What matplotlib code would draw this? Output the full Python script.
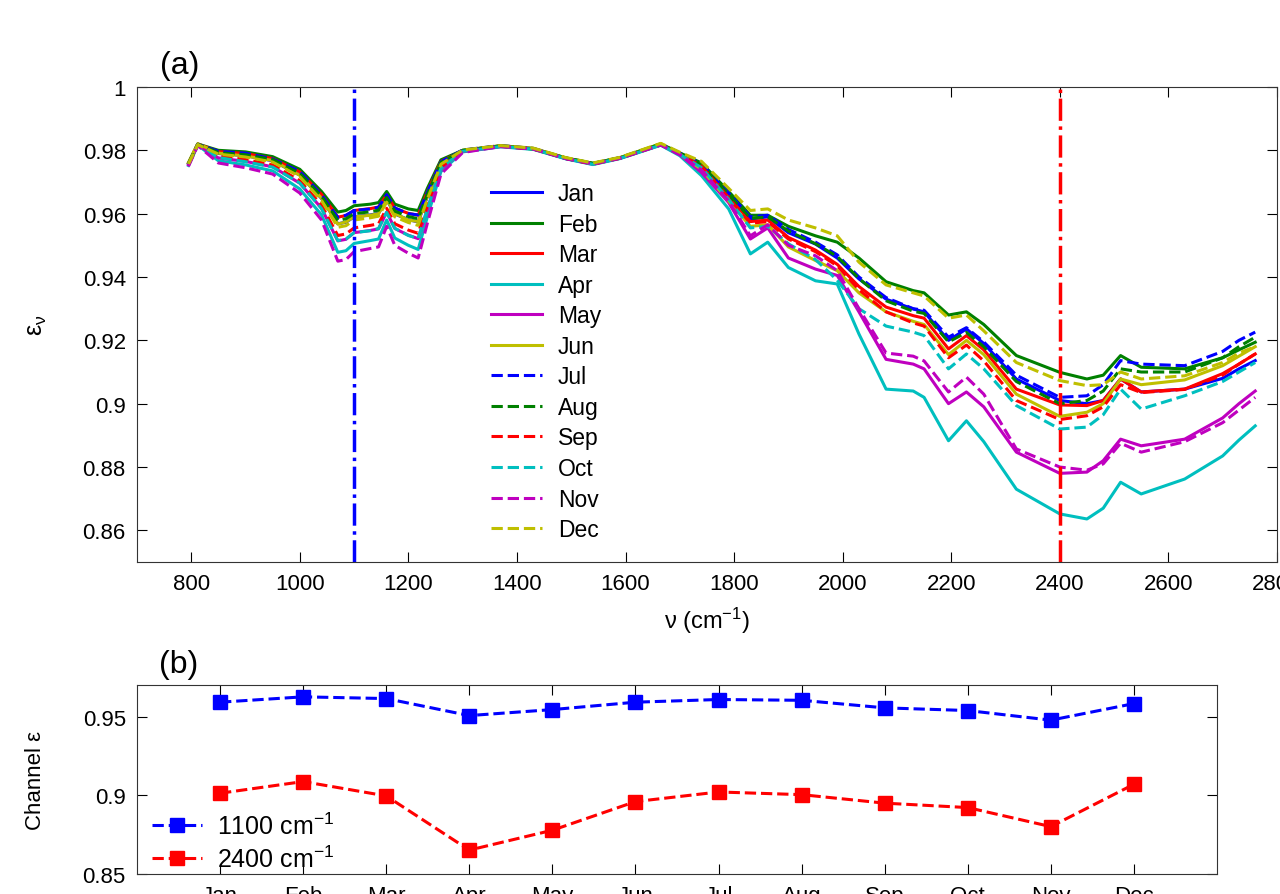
import matplotlib
matplotlib.use('Agg')
import matplotlib.pyplot as plt

plt.rcParams['font.family'] = ['Liberation Sans', 'DejaVu Sans']
plt.rcParams['mathtext.fontset'] = 'custom'
plt.rcParams['mathtext.rm'] = 'Liberation Sans'
plt.rcParams['mathtext.it'] = 'Liberation Sans:italic'
plt.rcParams['mathtext.default'] = 'regular'

nu = [795, 812, 850, 900, 950, 1000, 1040, 1070, 1085, 1100, 1130, 1145, 1160, 1175, 1200, 1218, 1235, 1260,
      1300, 1370, 1430, 1490, 1540, 1590, 1665, 1700,
      1740, 1790, 1830, 1862, 1900, 1950, 1990, 2030, 2080, 2130, 2150, 2195, 2228, 2260, 2320, 2400,
      2450, 2480, 2512, 2550, 2630, 2700, 2730, 2760]

# monthly emissivity spectra
eps_jan = [0.9758, 0.9819, 0.9790, 0.9783, 0.9767, 0.9722, 0.9648, 0.9568, 0.9573, 0.9590, 0.9596, 0.9601, 0.9644, 0.9599, 0.9581, 0.9574, 0.9654, 0.9759,
           0.9799, 0.9814, 0.9805, 0.9774, 0.9757, 0.9775, 0.9818, 0.9790,
           0.9755, 0.9660, 0.9583, 0.9590, 0.9540, 0.9504, 0.9460, 0.9394, 0.9330, 0.9299, 0.9290, 0.9200, 0.9236, 0.9190, 0.9078, 0.9010,
           0.9000, 0.9010, 0.9078, 0.9037, 0.9046, 0.9080, 0.9110, 0.9136]
eps_feb = [0.9760, 0.9820, 0.9800, 0.9795, 0.9780, 0.9740, 0.9670, 0.9605, 0.9610, 0.9625, 0.9630, 0.9635, 0.9670, 0.9630, 0.9615, 0.9610, 0.9680, 0.9770,
           0.9800, 0.9814, 0.9806, 0.9776, 0.9759, 0.9777, 0.9820, 0.9792,
           0.9760, 0.9670, 0.9595, 0.9595, 0.9560, 0.9530, 0.9510, 0.9460, 0.9385, 0.9357, 0.9350, 0.9280, 0.9290, 0.9250, 0.9152, 0.9099,
           0.9078, 0.9090, 0.9152, 0.9115, 0.9110, 0.9145, 0.9170, 0.9194]
eps_mar = [0.9759, 0.9820, 0.9796, 0.9790, 0.9774, 0.9732, 0.9661, 0.9589, 0.9594, 0.9610, 0.9616, 0.9621, 0.9659, 0.9617, 0.9601, 0.9595, 0.9669, 0.9765,
           0.9799, 0.9813, 0.9805, 0.9775, 0.9757, 0.9776, 0.9818, 0.9790,
           0.9750, 0.9655, 0.9575, 0.9580, 0.9525, 0.9485, 0.9440, 0.9370, 0.9305, 0.9278, 0.9270, 0.9173, 0.9215, 0.9170, 0.9046, 0.8996,
           0.8994, 0.9010, 0.9078, 0.9037, 0.9046, 0.9095, 0.9125, 0.9157]
eps_apr = [0.9752, 0.9816, 0.9767, 0.9754, 0.9735, 0.9678, 0.9596, 0.9478, 0.9483, 0.9506, 0.9515, 0.9520, 0.9580, 0.9523, 0.9500, 0.9487, 0.9590, 0.9733,
           0.9795, 0.9811, 0.9803, 0.9773, 0.9755, 0.9774, 0.9816, 0.9783,
           0.9720, 0.9615, 0.9473, 0.9510, 0.9430, 0.9388, 0.9378, 0.9220, 0.9046, 0.9040, 0.9020, 0.8883, 0.8946, 0.8880, 0.8730, 0.8652,
           0.8636, 0.8670, 0.8752, 0.8715, 0.8762, 0.8835, 0.8885, 0.8930]
eps_may = [0.9754, 0.9817, 0.9776, 0.9765, 0.9748, 0.9696, 0.9617, 0.9514, 0.9519, 0.9540, 0.9547, 0.9552, 0.9605, 0.9553, 0.9532, 0.9521, 0.9615, 0.9743,
           0.9796, 0.9812, 0.9805, 0.9775, 0.9757, 0.9776, 0.9818, 0.9786,
           0.9730, 0.9635, 0.9520, 0.9555, 0.9460, 0.9425, 0.9405, 0.9290, 0.9140, 0.9125, 0.9110, 0.9000, 0.9037, 0.8990, 0.8847, 0.8780,
           0.8784, 0.8820, 0.8888, 0.8867, 0.8888, 0.8955, 0.9000, 0.9040]
eps_jun = [0.9762, 0.9821, 0.9791, 0.9782, 0.9768, 0.9721, 0.9649, 0.9567, 0.9574, 0.9590, 0.9595, 0.9600, 0.9645, 0.9600, 0.9580, 0.9575, 0.9655, 0.9760,
           0.9800, 0.9815, 0.9806, 0.9776, 0.9758, 0.9777, 0.9821, 0.9789,
           0.9740, 0.9640, 0.9560, 0.9565, 0.9495, 0.9452, 0.9420, 0.9350, 0.9290, 0.9260, 0.9250, 0.9155, 0.9200, 0.9155, 0.9030, 0.8960,
           0.8973, 0.9000, 0.9078, 0.9060, 0.9075, 0.9120, 0.9150, 0.9180]
eps_jul = [0.9757, 0.9819, 0.9797, 0.9791, 0.9773, 0.9733, 0.9660, 0.9588, 0.9595, 0.9610, 0.9615, 0.9620, 0.9660, 0.9618, 0.9600, 0.9596, 0.9668, 0.9764,
           0.9801, 0.9815, 0.9806, 0.9774, 0.9758, 0.9777, 0.9819, 0.9791,
           0.9758, 0.9665, 0.9590, 0.9595, 0.9550, 0.9510, 0.9470, 0.9400, 0.9335, 0.9300, 0.9295, 0.9210, 0.9240, 0.9195, 0.9090, 0.9020,
           0.9025, 0.9060, 0.9136, 0.9125, 0.9120, 0.9165, 0.9200, 0.9226]
eps_aug = [0.9758, 0.9819, 0.9793, 0.9786, 0.9771, 0.9727, 0.9655, 0.9579, 0.9584, 0.9600, 0.9606, 0.9611, 0.9651, 0.9608, 0.9591, 0.9584, 0.9661, 0.9762,
           0.9800, 0.9814, 0.9804, 0.9776, 0.9759, 0.9776, 0.9820, 0.9791,
           0.9755, 0.9660, 0.9585, 0.9590, 0.9545, 0.9505, 0.9465, 0.9395, 0.9325, 0.9292, 0.9285, 0.9195, 0.9225, 0.9180, 0.9070, 0.9000,
           0.9010, 0.9040, 0.9110, 0.9100, 0.9100, 0.9145, 0.9180, 0.9210]
eps_sep = [0.9755, 0.9818, 0.9781, 0.9771, 0.9754, 0.9704, 0.9627, 0.9531, 0.9536, 0.9555, 0.9563, 0.9568, 0.9617, 0.9568, 0.9548, 0.9538, 0.9627, 0.9748,
           0.9797, 0.9813, 0.9804, 0.9774, 0.9756, 0.9775, 0.9817, 0.9788,
           0.9750, 0.9650, 0.9570, 0.9575, 0.9520, 0.9480, 0.9435, 0.9360, 0.9290, 0.9255, 0.9245, 0.9145, 0.9185, 0.9135, 0.9010, 0.8950,
           0.8962, 0.8990, 0.9060, 0.9035, 0.9045, 0.9090, 0.9125, 0.9157]
eps_oct = [0.9755, 0.9818, 0.9777, 0.9764, 0.9747, 0.9697, 0.9616, 0.9515, 0.9520, 0.9540, 0.9546, 0.9553, 0.9604, 0.9554, 0.9531, 0.9522, 0.9614, 0.9744,
           0.9797, 0.9812, 0.9804, 0.9774, 0.9756, 0.9775, 0.9817, 0.9787,
           0.9745, 0.9645, 0.9555, 0.9560, 0.9505, 0.9455, 0.9390, 0.9300, 0.9245, 0.9226, 0.9215, 0.9110, 0.9157, 0.9110, 0.8994, 0.8920,
           0.8926, 0.8965, 0.9046, 0.8983, 0.9025, 0.9070, 0.9100, 0.9130]
eps_nov = [0.9750, 0.9815, 0.9760, 0.9745, 0.9725, 0.9665, 0.9580, 0.9450, 0.9455, 0.9480, 0.9490, 0.9495, 0.9560, 0.9500, 0.9475, 0.9460, 0.9570, 0.9725,
           0.9793, 0.9812, 0.9804, 0.9774, 0.9757, 0.9775, 0.9817, 0.9786,
           0.9738, 0.9640, 0.9530, 0.9565, 0.9500, 0.9467, 0.9420, 0.9300, 0.9160, 0.9150, 0.9135, 0.9037, 0.9084, 0.9030, 0.8857, 0.8800,
           0.8790, 0.8810, 0.8875, 0.8847, 0.8880, 0.8940, 0.8980, 0.9020]
eps_dec = [0.9757, 0.9818, 0.9788, 0.9779, 0.9763, 0.9717, 0.9642, 0.9557, 0.9562, 0.9580, 0.9587, 0.9592, 0.9636, 0.9590, 0.9572, 0.9563, 0.9646, 0.9756,
           0.9801, 0.9815, 0.9807, 0.9777, 0.9760, 0.9778, 0.9822, 0.9794,
           0.9765, 0.9680, 0.9610, 0.9615, 0.9580, 0.9555, 0.9530, 0.9447, 0.9375, 0.9350, 0.9340, 0.9270, 0.9280, 0.9230, 0.9130, 0.9073,
           0.9057, 0.9060, 0.9100, 0.9078, 0.9088, 0.9130, 0.9160, 0.9180]

months = ['Jan', 'Feb', 'Mar', 'Apr', 'May', 'Jun', 'Jul', 'Aug', 'Sep', 'Oct', 'Nov', 'Dec']
spectra = [eps_jan, eps_feb, eps_mar, eps_apr, eps_may, eps_jun,
           eps_jul, eps_aug, eps_sep, eps_oct, eps_nov, eps_dec]

# channel emissivity by month
ch_1100 = [0.9591, 0.9625, 0.9614, 0.9506, 0.9544, 0.9591, 0.9608, 0.9603, 0.9555, 0.9538, 0.9477, 0.9582]
ch_2400 = [0.9013, 0.9087, 0.8996, 0.8652, 0.8778, 0.8960, 0.9021, 0.9004, 0.8950, 0.8922, 0.8801, 0.9070]

# matlab default line colours
colors = ['#0000ff', '#008000', '#ff0000', '#00bfbf', '#bf00bf', '#bfbf00']

fig = plt.figure(figsize=(12.8, 8.95), dpi=100)

# panel (a)
ax1 = fig.add_axes([0.107, 0.3709, 0.8906, 0.5308])
for i, (m, y) in enumerate(zip(months, spectra)):
    ls = '-' if i < 6 else '--'
    ax1.plot(nu, y, color=colors[i % 6], ls=ls, lw=2.2, label=m)
ax1.axvline(1100, color='#0000ff', ls='-.', lw=2.5)
ax1.axvline(2400, color='#ff0000', ls='-.', lw=2.5)
ax1.set_xlim(700, 2800)
ax1.set_ylim(0.85, 1.0)
ax1.set_xticks([800, 1000, 1200, 1400, 1600, 1800, 2000, 2200, 2400, 2600, 2800])
ax1.set_yticks([0.86, 0.88, 0.9, 0.92, 0.94, 0.96, 0.98, 1])
ax1.set_yticklabels(['0.86', '0.88', '0.9', '0.92', '0.94', '0.96', '0.98', '1'])
ax1.set_xlabel('ν (cm$^{-1}$)', fontsize=17, labelpad=8)
ax1.set_ylabel('ε$_{ν}$', fontsize=18, labelpad=24)
ax1.legend(loc='upper left', bbox_to_anchor=(0.311, 0.80), frameon=False, fontsize=16.5,
           handlelength=2.2, labelspacing=0.33, borderpad=0, borderaxespad=0, handletextpad=0.7)
ax1.text(0.02, 1.015, '(a)', transform=ax1.transAxes, fontsize=23, va='bottom')

# panel (b)
ax2 = fig.add_axes([0.107, 0.0223, 0.8438, 0.2112])
x = list(range(1, 13))
ax2.plot(x, ch_1100, color='#0000ff', ls='--', lw=2.2, marker='s', ms=10, label='1100 cm$^{-1}$')
ax2.plot(x, ch_2400, color='#ff0000', ls='--', lw=2.2, marker='s', ms=10, label='2400 cm$^{-1}$')
ax2.set_xlim(0, 13)
ax2.set_ylim(0.85, 0.97)
ax2.set_xticks(x)
ax2.set_xticklabels(months)
ax2.set_yticks([0.85, 0.9, 0.95])
ax2.set_yticklabels(['0.85', '0.9', '0.95'])
ax2.set_ylabel('Channel ε', fontsize=16, labelpad=26)
ax2.legend(loc='lower left', bbox_to_anchor=(0.012, 0.0), frameon=False, fontsize=18, handlelength=2.0,
           borderaxespad=0, borderpad=0.1, labelspacing=0.25, handletextpad=0.6)
ax2.text(0.02, 1.03, '(b)', transform=ax2.transAxes, fontsize=23, va='bottom')

for ax in (ax1, ax2):
    ax.tick_params(direction='in', top=True, right=True, labelsize=16, length=7, width=0.8, pad=8)
    for s in ax.spines.values():
        s.set_linewidth(0.8)
        s.set_color('#333333')

fig.savefig('out.png', dpi=100)
